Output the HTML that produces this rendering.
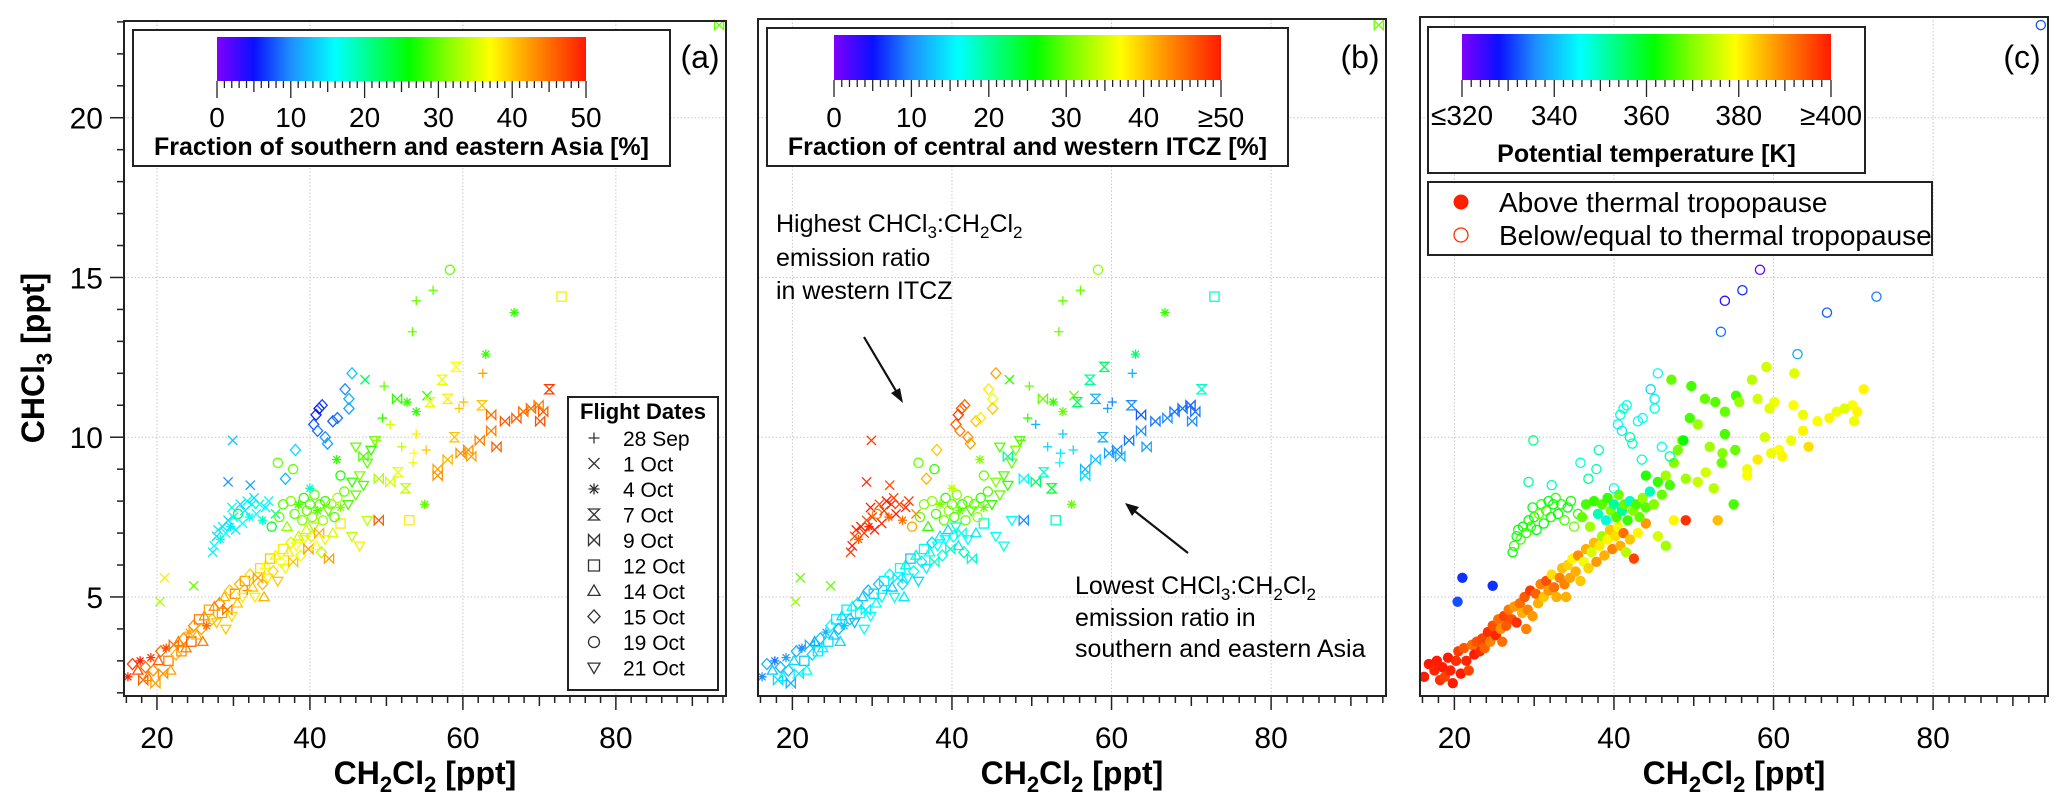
<!DOCTYPE html>
<html><head><meta charset="utf-8"><style>
html,body{margin:0;padding:0;background:#fff}
svg{display:block;font-family:"Liberation Sans",Arial,sans-serif}
</style></head><body>
<svg id="chart" width="2067" height="808" viewBox="0 0 2067 808" xmlns="http://www.w3.org/2000/svg">
<defs>
<linearGradient id="rainbow" x1="0" x2="1" y1="0" y2="0">
<stop offset="0" stop-color="#7f00ff"/><stop offset="0.1" stop-color="#0a10ff"/><stop offset="0.2" stop-color="#1e8fff"/><stop offset="0.32" stop-color="#00ffff"/><stop offset="0.52" stop-color="#00ff00"/><stop offset="0.62" stop-color="#80ff00"/><stop offset="0.74" stop-color="#ffff00"/><stop offset="0.86" stop-color="#ff9000"/><stop offset="1" stop-color="#ff1a00"/>
</linearGradient>
</defs>
<g id="layer"></g>
</svg>
<script>
// ---- data (same measurements in all three panels) ----
const lowX=[16.2,16.8,17.5,17.8,18.2,18.5,18.8,19.2,19.5,19.8,20.2,20.5,20.8,21.2,21.5,21.8,22.2,22.5,22.8,23.2,23.5,23.8,24.2,24.5,24.8,25.2,25.5,25.8,26.2,26.5,26.8,27.2,27.5,27.8,28.2,28.5,28.8,29.2,29.5,29.8,30.2,30.5,30.8,31.2,31.5,31.8,32.2,32.5,32.8,33.2,33.5,33.8,34.2,34.5,34.8,35.2,35.5,35.8,36.2,36.5,36.8,37.2,37.5,37.8,38.2,38.5,38.8,39.2,39.5,39.8,40.2,40.5,40.8,41.2,41.5,42,42.5,43,44,45.5,46.5,47.5,49,53,21,20.4,24.8,26,29,34];
const lowY=[2.5,2.9,2.7,3.0,2.4,2.8,2.5,3.1,2.7,2.3,3.0,3.3,2.6,3.4,3.0,2.7,3.5,3.2,3.6,3.3,3.7,3.4,3.9,3.6,4.1,3.8,4.3,4.0,4.4,4.1,4.6,4.3,4.7,4.2,4.8,4.5,5.0,4.6,5.2,4.4,5.1,4.8,5.4,5.0,5.5,5.2,5.7,5.3,5.0,5.6,5.9,5.4,6.0,5.6,6.2,5.8,6.3,5.5,6.1,6.5,5.9,6.4,6.7,6.1,6.6,6.9,6.3,6.8,7.1,6.5,6.9,7.2,6.6,7.0,6.4,6.8,6.2,7.0,7.3,6.9,6.6,7.4,7.4,7.4,5.6,4.85,5.35,3.6,4.0,5.0];
const lowFlight=[2,7,6,2,4,7,6,2,7,4,6,7,4,2,5,6,4,7,6,5,7,6,2,5,7,6,5,7,6,2,5,7,6,9,7,5,6,4,7,9,5,6,7,9,5,0,7,6,9,4,5,7,6,9,5,7,6,9,7,5,9,6,7,4,9,6,7,9,6,4,7,9,6,4,7,9,4,6,5,9,9,9,4,5,1,1,1,6,9,6];
const lowAsia=[49,48,47,50,46,45,44,48,43,42,46,45,43,47,44,42,45,41,44,43,43,44,42,46,43,41,44,42,43,45,42,41,43,40,44,42,41,45,40,39,43,40,41,38,42,44,39,40,38,42,39,41,37,38,40,39,36,40,37,38,36,38,35,40,37,34,36,38,35,42,35,33,37,41,34,36,42,35,38,34,38,34,46,38,38,33,30,44,40,41];
const lowItcz=[10,12,13,9,14,12,15,11,13,12,14,12,15,10,13,16,12,14,11,15,13,15,12,14,16,13,15,12,14,13,15,13,16,12,14,17,13,15,12,16,14,16,13,17,15,14,16,13,17,15,16,14,17,15,13,16,18,14,15,17,15,17,14,18,16,15,17,16,14,18,16,18,15,17,19,16,18,15,17,16,17,16,10,18,30,32,30,14,16,15];
const lowTheta=[400,400,399,400,398,400,396,400,399,400,398,397,400,394,399,396,392,400,395,398,396,393,398,390,395,399,392,389,396,394,391,395,388,398,392,386,394,390,397,388,393,386,390,384,395,388,382,392,386,390,385,390,383,387,380,386,389,384,378,386,383,376,385,388,381,372,386,380,384,390,382,378,386,392,374,384,396,380,388,376,372,380,398,385,330,332,330,392,390,386];

const upX=[27.3,27.5,27.8,28,28.3,28.6,29,29.3,29.6,29.8,30,30.3,30.6,30.9,31.2,31.5,31.8,32.1,32.4,32.7,33,33.4,33.8,34.2,34.6,35,35.5,29.3,32.2,29.9];
const upY=[6.4,6.6,6.9,7.1,6.8,7.2,7.0,7.4,7.2,7.8,7.5,7.1,7.6,7.9,7.3,7.7,8.0,7.5,7.9,8.1,7.6,7.9,7.4,7.8,8.0,7.2,7.6,8.6,8.5,9.9];
const upFlight=[1,1,1,1,2,1,1,1,2,1,1,1,8,1,1,1,1,2,1,1,1,1,2,1,1,8,1,1,1,1];
const upAsia=[15,16,14,15,17,15,16,14,15,17,16,15,22,14,16,15,17,16,15,14,16,17,18,15,16,24,20,10,11,13];
const upItcz=[48,50,47,49,46,50,48,47,49,50,48,50,44,47,49,48,50,46,49,48,50,47,45,49,48,42,44,49,47,48];
const upTheta=[362,364,360,363,366,361,364,362,365,360,363,361,368,364,362,366,360,363,361,365,362,364,366,360,363,368,365,352,350,353];

const grX=[36,36.5,37,37.5,38,38.5,39,39.2,39.6,40,40.3,40.6,41,41.3,41.7,42,42.4,42.8,43.2,43.6,44,44.5,45,45.5,46,46.5,47,47.5,48,48.5,35.8,37.8,43.5,46,47,49,50.5,51.5,52.5,44];
const grY=[7.5,7.9,7.2,8.0,7.6,7.9,7.4,8.1,7.7,7.9,7.5,8.2,7.7,7.9,7.4,8.0,7.7,7.9,7.5,8.1,7.8,8.3,7.9,8.6,8.2,8.8,8.5,9.2,9.6,9.9,9.2,9.0,9.3,9.7,9.4,8.7,8.6,8.9,8.4,8.8];
const grFlight=[8,8,6,8,8,2,8,8,8,8,8,8,2,8,8,8,9,8,8,8,2,8,9,9,9,9,9,9,9,9,8,8,2,9,4,4,4,3,3,8];
const grAsia=[30,29,32,31,30,29,31,28,30,29,31,30,29,30,32,28,30,31,29,33,31,30,29,28,30,31,29,30,28,30,30,30,28,30,29,33,35,36,34,27];
const grItcz=[30,31,28,32,29,31,30,28,32,30,29,31,30,28,30,31,29,30,32,28,30,29,28,31,30,29,28,30,31,29,30,28,31,29,20,16,22,18,24,30];
const grTheta=[368,366,372,365,350,367,348,365,370,352,366,369,352,368,365,349,370,366,368,371,367,350,370,365,368,372,366,370,369,373,348,350,349,346,352,372,375,376,374,364];
const grAbove=[1,1,1,1,1,1,1,1,1,1,1,1,1,1,1,1,1,1,1,1,1,1,1,1,1,1,1,1,1,1,0,0,0,0,0,1,1,1,1,1];

const diX=[40.5,40.8,41.2,41.6,41,42,42.3,43,43.6,45.1,45.1,44.6,45.5,38.1,36.8,40];
const diY=[10.4,10.7,10.9,11.0,10.2,10.0,9.8,10.5,10.6,11.2,10.9,11.5,12.0,9.6,8.7,8.4];
const diFlight=[7,7,7,7,7,7,7,7,7,7,7,7,7,7,7,2];
const diAsia=[8,6,5,7,9,10,11,8,9,12,11,10,13,14,12,18];
const diItcz=[46,48,47,45,44,43,42,40,38,36,40,38,42,40,41,34];
const diTheta=[345,348,350,346,344,352,349,347,346,344,348,342,345,350,352,348];

const rbX=[47.2,49.7,51.4,52.7,55.3,53.9,55.7,58,60.1,59.5,62.5,62.6,63.7,65.5,67,67.9,69.9,70.5,70.1,68.9,63.7,64.4,62.2,60.7,61.1,59.7,58.9,58,56.7,56.7,55.2,53.9,53.6,53.5,55,57.3,59.1,71.3,50.5,52];
const rbY=[11.8,11.6,11.2,11.1,11.3,10.8,11.1,11.2,11.1,10.9,11.0,12.0,10.7,10.5,10.6,10.8,11.0,10.8,10.5,10.9,10.2,9.7,9.9,9.6,9.4,9.5,10.0,9.3,9.0,8.8,9.6,10.1,9.5,9.2,7.9,11.8,12.2,11.5,10.4,9.7];
const rbFlight=[1,0,4,2,1,2,3,3,0,0,3,0,4,4,4,4,4,4,4,4,4,4,4,4,4,4,3,4,4,4,0,0,0,0,2,3,3,3,0,0];
const rbAsia=[22,30,28,28,28,28,36,38,40,40,40,42,45,46,46,45,44,46,47,45,44,46,44,43,42,43,40,41,42,43,40,38,37,36,30,36,37,48,35,34];
const rbItcz=[28,30,30,28,30,30,22,12,10,11,10,12,8,9,10,9,8,9,10,9,10,11,9,10,12,11,12,13,12,14,14,13,15,16,30,20,22,18,12,14];
const rbTheta=[368,366,368,367,366,368,372,376,378,377,379,377,378,379,380,378,379,380,378,377,380,382,378,379,380,378,376,381,378,379,368,366,370,368,366,374,376,380,372,372];

const outX=[93.5,58.3,56.1,53.9,53.4,72.9,66.7,63,49.5,48.7];
const outY=[22.9,15.24,14.6,14.27,13.3,14.4,13.9,12.6,10.6,9.9];
const outFlight=[4,8,0,0,0,5,2,2,0,0];
const outAsia=[30,30,30,30,30,38,28,28,28,32];
const outItcz=[30,32,30,30,30,18,28,22,28,30];
const outTheta=[332,322,330,326,334,335,333,338,366,362];
const outAbove=[0,0,0,0,0,0,0,0,1,1];

const flightLabels=["28 Sep","1 Oct","4 Oct","7 Oct","9 Oct","12 Oct","14 Oct","15 Oct","19 Oct","21 Oct"];
const xTicks=[20,40,60,80];
const yTicks=[5,10,15,20];
const asiaTickLabels=["0","10","20","30","40","50"];
const itczTickLabels=["0","10","20","30","40","≥50"];
const thetaTickLabels=["≤320","340","360","380","≥400"];

// ---- assemble ----
const pts=[];
function addCluster(xs,ys,fl,fa,fb,th,ab,defAbove){
  for(let i=0;i<xs.length;i++){
    pts.push({x:xs[i],y:ys[i],f:fl[i]??0,a:fa[i]??30,b:fb[i]??30,t:th[i]??360,ab:ab?ab[i]:defAbove});
  }
}
addCluster(lowX,lowY,lowFlight,lowAsia,lowItcz,lowTheta,null,1);
addCluster(upX,upY,upFlight,upAsia,upItcz,upTheta,null,0);
addCluster(grX,grY,grFlight,grAsia,grItcz,grTheta,grAbove,1);
addCluster(diX,diY,diFlight,diAsia,diItcz,diTheta,null,0);
addCluster(rbX,rbY,rbFlight,rbAsia,rbItcz,rbTheta,null,1);
addCluster(outX,outY,outFlight,outAsia,outItcz,outTheta,outAbove,0);

const NS="http://www.w3.org/2000/svg";
const layer=document.getElementById('layer');
function el(tag,attrs,parent){const e=document.createElementNS(NS,tag);for(const k in attrs)e.setAttribute(k,attrs[k]);(parent||layer).appendChild(e);return e;}

const stops=[[0,[127,0,255]],[0.1,[10,16,255]],[0.2,[30,143,255]],[0.32,[0,255,255]],[0.52,[0,255,0]],[0.62,[128,255,0]],[0.74,[255,255,0]],[0.86,[255,144,0]],[1,[255,26,0]]];
function cmap(f){f=Math.max(0,Math.min(1,f));for(let i=1;i<stops.length;i++){if(f<=stops[i][0]){const a=stops[i-1],b=stops[i];const u=(f-a[0])/(b[0]-a[0]);const c=a[1].map((v,j)=>Math.round(v+(b[1][j]-v)*u));return `rgb(${c[0]},${c[1]},${c[2]})`;}}return 'rgb(255,26,0)';}

const XD0=15.69,XD1=94.4,YD0=1.9,YD1=23.09;
const panels=[{l:124,r:726,t:21,b:696,id:'a'},{l:758,r:1386,t:19,b:696,id:'b'},{l:1420,r:2048,t:17,b:696,id:'c'}];
const PT=19,PB=696;
function sx(p,v){return p.l+(v-XD0)/(XD1-XD0)*(p.r-p.l);}
function sy(v){return PB-(v-YD0)/(YD1-YD0)*(PB-PT);}

function marker(g,type,cx,cy,color,r){
  r=r||4.6;const sw=1.3;let d;
  switch(type){
    case 0:d=`M${cx-r},${cy}H${cx+r}M${cx},${cy-r}V${cy+r}`;break;
    case 1:d=`M${cx-r},${cy-r}L${cx+r},${cy+r}M${cx-r},${cy+r}L${cx+r},${cy-r}`;break;
    case 2:{const q=r*0.75;d=`M${cx-r},${cy}H${cx+r}M${cx},${cy-r}V${cy+r}M${cx-q},${cy-q}L${cx+q},${cy+q}M${cx-q},${cy+q}L${cx+q},${cy-q}`;break;}
    case 3:d=`M${cx-r},${cy-r}H${cx+r}L${cx-r},${cy+r}H${cx+r}Z`;break;
    case 4:d=`M${cx-r},${cy-r}V${cy+r}L${cx+r},${cy-r}V${cy+r}Z`;break;
    case 5:d=`M${cx-r},${cy-r}H${cx+r}V${cy+r}H${cx-r}Z`;break;
    case 6:d=`M${cx},${cy-r*1.1}L${cx+r*1.1},${cy+r*0.8}H${cx-r*1.1}Z`;break;
    case 7:d=`M${cx},${cy-r*1.2}L${cx+r*1.1},${cy}L${cx},${cy+r*1.2}L${cx-r*1.1},${cy}Z`;break;
    case 8:{const c=el('circle',{cx:cx,cy:cy,r:r,fill:'none',stroke:color,'stroke-width':sw},g);return c;}
    default:d=`M${cx},${cy+r*1.1}L${cx+r*1.1},${cy-r*0.8}H${cx-r*1.1}Z`;
  }
  return el('path',{d:d,fill:'none',stroke:color,'stroke-width':sw},g);
}

function txt(x,y,s,size,opts,parent){const t=el('text',Object.assign({x:x,y:y,'font-size':size,fill:'#000'},opts||{}),parent);t.textContent=s;return t;}

panels.forEach((p,pi)=>{
  const g=el('g',{});
  
  
  xTicks.forEach(v=>{const l=el('line',{x1:sx(p,v),x2:sx(p,v),y1:p.t,y2:p.b,stroke:'#c8c8c8','stroke-width':1,'stroke-dasharray':'1.5,2'},g);});
  yTicks.forEach(v=>{const l=el('line',{x1:p.l,x2:p.r,y1:sy(v),y2:sy(v),stroke:'#c8c8c8','stroke-width':1,'stroke-dasharray':'1.5,2'},g);});
  const dg=el('g',{},g);
  
  
  pts.forEach(d=>{
    const cx=sx(p,d.x),cy=sy(d.y);
    let m;
    if(pi===0){m=marker(dg,d.f,cx,cy,cmap(d.a/50));}
    else if(pi===1){m=marker(dg,d.f,cx,cy,cmap(d.b/50));}
    else{
      const c=cmap((d.t-320)/80);
      if(d.ab) m=el('circle',{cx:cx,cy:cy,r:5.2,fill:c},dg);
      else m=el('circle',{cx:cx,cy:cy,r:4.6,fill:'none',stroke:c,'stroke-width':1.3},dg);
    }
    
    
  });
  const fr=el('rect',{x:p.l,y:p.t,width:p.r-p.l,height:p.b-p.t,fill:'none',stroke:'#222','stroke-width':2},g);
  
  
  for(let v=16;v<=94;v+=2){const L=(v%20===0)?14:(v%10===0?10:7);const t=el('line',{x1:sx(p,v),x2:sx(p,v),y1:p.b,y2:p.b+L,stroke:'#222','stroke-width':1.5},g);}
  xTicks.forEach(v=>{const t=txt(sx(p,v),748,String(v),30,{'text-anchor':'middle'},g);});
  const xt=el('text',{x:(p.l+p.r)/2,y:784,'font-size':32,'font-weight':'bold','text-anchor':'middle'},g);
  xt.innerHTML='CH<tspan font-size="22" dy="8">2</tspan><tspan dy="-8">Cl</tspan><tspan font-size="22" dy="8">2</tspan><tspan dy="-8"> [ppt]</tspan>';
  
  
  const lt=txt(p.r-26,68,'('+p.id+')',32,{'text-anchor':'middle'},g);
  
  
});

(function(){
  const p=panels[0];
  const g=el('g',{});
  
  
  for(let v=2;v<=23;v++){const L=(v%5===0)?14:7;const t=el('line',{x1:p.l-L,x2:p.l,y1:sy(v),y2:sy(v),stroke:'#222','stroke-width':1.5},g);}
  yTicks.forEach(v=>{const t=txt(103,sy(v)+11,String(v),30,{'text-anchor':'end'},g);});
  const yt=el('text',{x:0,y:0,'font-size':32,'font-weight':'bold','text-anchor':'middle',transform:'translate(44,358) rotate(-90)'},g);
  yt.innerHTML='CHCl<tspan font-size="22" dy="8">3</tspan><tspan dy="-8"> [ppt]</tspan>';
  
  
})();

function colorbar(id,box,bar,labels,labelY,title,titleY){
  const g=el('g',{});
  
  
  el('rect',{x:box[0],y:box[1],width:box[2]-box[0],height:box[3]-box[1],fill:'#fff',stroke:'#222','stroke-width':2},g);
  const r=el('rect',{x:bar[0],y:bar[1],width:bar[2]-bar[0],height:bar[3]-bar[1],fill:'url(#rainbow)'},g);
  
  
  const n=(labels.length-1)*10;
  for(let i=0;i<=n;i++){const x=bar[0]+i/n*(bar[2]-bar[0]);const L=(i%10===0)?17:(i%5===0?11:7);el('line',{x1:x,x2:x,y1:bar[3],y2:bar[3]+L,stroke:'#222','stroke-width':1.3},g);}
  labels.forEach((s,i)=>{const x=bar[0]+i/(labels.length-1)*(bar[2]-bar[0]);const t=txt(x,labelY,s,28,{'text-anchor':'middle'},g);});
  const t=txt((box[0]+box[2])/2,titleY,title,25,{'text-anchor':'middle','font-weight':'bold'},g);
  
  
}
colorbar('a',[133,30,670,166],[217,37,586,81],asiaTickLabels,127,'Fraction of southern and eastern Asia [%]',155);
colorbar('b',[767,28,1288,166],[834,35,1221,80],itczTickLabels,127,'Fraction of central and western ITCZ [%]',155);
colorbar('c',[1428,27,1865,173],[1462,34,1831,80],thetaTickLabels,125,'Potential temperature [K]',162);

(function(){
  const g=el('g',{});
  
  
  el('rect',{x:568,y:397,width:150,height:293,fill:'#fff',stroke:'#222','stroke-width':2},g);
  const t=txt(643,419,'Flight Dates',22,{'text-anchor':'middle','font-weight':'bold'},g);
  
  
  flightLabels.forEach((s,i)=>{
    const y=438+i*25.5;
    const m=marker(g,i,594,y,'#333',5.5);
    
    
    const lt=txt(623,y+8,s,21,{},g);
    
    
  });
})();

(function(){
  const g=el('g',{});
  
  
  el('rect',{x:1428,y:182,width:504,height:73,fill:'#fff',stroke:'#222','stroke-width':2},g);
  el('circle',{cx:1461,cy:202,r:7.5,fill:'#ff2000'},g);
  el('circle',{cx:1461,cy:235,r:7,fill:'none',stroke:'#ff3000','stroke-width':1.3},g);
  const a=txt(1499,212,'Above thermal tropopause',28,{},g);
  
  
  const b=txt(1499,245,'Below/equal to thermal tropopause',28,{},g);
  
  
})();

(function(){
  const g=el('g',{});
  
  
  const t1=el('text',{x:776,y:232,'font-size':25},g);
  t1.innerHTML='Highest CHCl<tspan font-size="17" dy="6">3</tspan><tspan dy="-6">:CH</tspan><tspan font-size="17" dy="6">2</tspan><tspan dy="-6">Cl</tspan><tspan font-size="17" dy="6">2</tspan>';
  txt(776,266,'emission ratio',25,{},g);
  txt(776,299,'in western ITCZ',25,{},g);
  el('line',{x1:864,y1:337,x2:899,y2:396,stroke:'#111','stroke-width':2.2},g);
  el('path',{d:'M903,403 L891,393 L900,388 Z',fill:'#111'},g);
  const g2=el('g',{});
  
  
  const t2=el('text',{x:1075,y:594,'font-size':25},g2);
  t2.innerHTML='Lowest CHCl<tspan font-size="17" dy="6">3</tspan><tspan dy="-6">:CH</tspan><tspan font-size="17" dy="6">2</tspan><tspan dy="-6">Cl</tspan><tspan font-size="17" dy="6">2</tspan>';
  txt(1075,626,'emission ratio in',25,{},g2);
  txt(1075,657,'southern and eastern Asia',25,{},g2);
  el('line',{x1:1188,y1:553,x2:1132,y2:509,stroke:'#111','stroke-width':2.2},g2);
  el('path',{d:'M1125,503 L1139,507 L1132,516 Z',fill:'#111'},g2);
})();
</script>
</body></html>
